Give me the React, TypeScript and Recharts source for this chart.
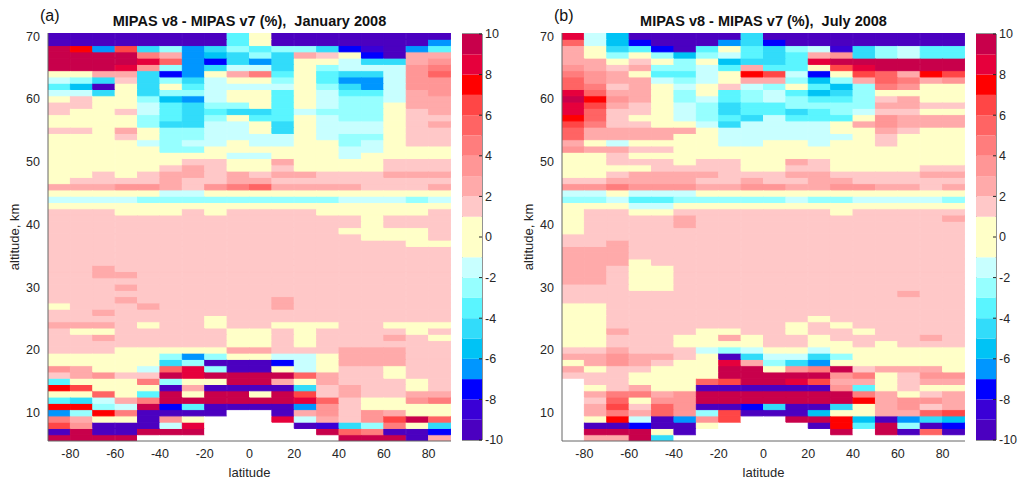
import { Bar, BarChart, Cell, ReferenceArea, XAxis, YAxis } from "recharts";

// grid of the two maps: cell centres
const latitudes = [-85, -75, -65, -55, -45, -35, -25, -15, -5, 5, 15, 25, 35, 45, 55, 65, 75, 85];
const altitudes = [
  70, 69, 68, 67, 66, 65, 64, 63, 62, 61, 60, 59, 58, 57, 56, 55, 54, 53, 52, 51,
  50, 49, 48, 47, 46, 45, 44, 43, 42, 41, 40, 39, 38, 37, 36, 35, 34, 33, 32, 31,
  30, 29, 28, 27, 26, 25, 24, 23, 22, 21, 20, 19, 18, 17, 16, 15, 14, 13, 12, 11,
  10, 9, 8, 7, 6,
];
const latTicks = [-80, -60, -40, -20, 0, 20, 40, 60, 80];
const altTicks = [10, 20, 30, 40, 50, 60, 70];
const colorbarTicks = [-10, -8, -6, -4, -2, 0, 2, 4, 6, 8, 10];

// colour levels (%), bottom to top
const levels = [-10, -9, -8, -7, -6, -5, -4, -3, -2, -1, 1, 2, 3, 4, 5, 6, 7, 8, 9, 10];
const levelColors = [
  "#4b00c0", "#3a00d6", "#0000ff", "#0096ff", "#00c3f5", "#32dcfa", "#5af5ff", "#96ffff", "#c8ffff",
  "#ffffc8",
  "#ffc8c8", "#ffaaaa", "#ff9696", "#ff7d7d", "#ff6464", "#ff4646", "#ff0000", "#e6003c", "#c8004b",
];

// value (%) read for each cell code; "." = no data
const cellValue: Record<string, number | null> = {
  "0": 0, "1": 1.5, "2": 2.5, "3": 3.5, "4": 4.5, "5": 5.5, "6": 6.5, "7": 7.5, "8": 8.5, "9": 9.5,
  a: -1.5, b: -2.5, c: -3.5, d: -4.5, e: -5.5, f: -6.5, g: -7.5, h: -8.5, i: -9.5,
  ".": null,
};

// January 2008, one string per altitude (70 km first), one char per latitude band
const janRows = [
  "iiiiiiiic0iiiiiiii",
  "iiiiiiiic0iiiiiiif",
  "97f6dbfdbcbbdghifc",
  "999942fedbd210gi22",
  "999985fgdfd00add23",
  "99983bfdaad0baaa34",
  "0022dgf024c0cdda35",
  "abd1dbda00b0cffa33",
  "cei0d0caaaa0bdfa33",
  "aad0dbba00c0acca23",
  "0100befa00c0abba22",
  "1100acdbb0c0abb022",
  "1001acdcddcabbb012",
  "0000bcdb0cc0abb011",
  "0000bddaa0d0aaa012",
  "11020bbaa0d0aaa011",
  "00010bbaaaa0abb011",
  "0000abaa0aa00ba011",
  "00000bb000000aa000",
  "00000000aa000a0000",
  "000000110020000111",
  "000001210010000111",
  "001012212122111222",
  "011112112211111111",
  "222332134522221112",
  "00000aa00000000000",
  "aaaabbbbbbbbbaaaba",
  "000000000000000000",
  "111000101111000001",
  "111111111111110111",
  "111111111111110111",
  "111111111111100001",
  "111111111111110001",
  "111111111111111100",
  "111111111111111111",
  "111111111111111111",
  "111111111111111111",
  "112111111111111111",
  "112211111111111111",
  "111111111111111111",
  "111211111111111111",
  "111111111111111111",
  "111211111121111111",
  "011121111121111111",
  "112111111111111111",
  "111111101111111111",
  "222101101100011000",
  "100111110010111101",
  "112111110010111210",
  "111111110010111111",
  "111000002211122211",
  "00000bfb00aa022211",
  "00000dbiiiga022211",
  "3200a58bii0a011011",
  "123119899995211011",
  "c0004b009920211101",
  "76000i2iiiid121101",
  "0050c9099096121122",
  "cda249999998510034",
  "77ba9gciiiif310000",
  "fb74iiii..i2313200",
  "4200i30...8a213695",
  "63iiia8....ihdb40d",
  "i9ii999.....954iig",
  "9999.........999i2",
];

// July 2008
const julRows = [
  "8aeiiiiidiiiiiiiii",
  "5aegiiifdgiiiiiiii",
  "20dcgic0cdbahdbacc",
  "20b0bebacdc23dbacc",
  "22010b0eddc8999999",
  "3212bbac2cc0689999",
  "4320cca076ag065276",
  "5322aba022beb25423",
  "54120a01ab0ceb4300",
  "85220b0cbacedb0000",
  "97320bacbabccb1200",
  "86210abdccbbbb2211",
  "85110abdccdcba1100",
  "75100abcdaccc03222",
  "641100adaaaa023222",
  "5222220aaaaa002100",
  "5222200aaaaaa01000",
  "20a0000aa00a001000",
  "322110000000000000",
  "001000000000000000",
  "001110110021000000",
  "000011110011000011",
  "001222211122111122",
  "112222112112211111",
  "334333223322332212",
  "aa0aaa000000000000",
  "bbaccbbbbbabbaaaab",
  "000aa0000000000000",
  "011001111111011111",
  "011112111111111112",
  "011112111111111111",
  "011111111111111111",
  "111111111111111111",
  "112111111111111111",
  "222111111111111111",
  "222111111111111111",
  "222011111111111111",
  "221001111111111111",
  "221001111111111111",
  "221001111111111111",
  "111001111111111111",
  "111111111111111211",
  "111111111111111111",
  "001111111111111111",
  "001111111111111111",
  "001111111110111111",
  "001111111101011111",
  "002111001101101111",
  "001110020110111121",
  "001110000110010111",
  "112111aba00a000000",
  "2232210idaadb00000",
  "023210082bdf000000",
  "201100099034912220",
  "111000099999340133",
  ".11000569986220122",
  ".01200iiiiii3c0100",
  ".24423999999942012",
  ".15033999999972332",
  ".26153iigdiid02312",
  ".24253b6iiie002256",
  ".07aif36..997eifde",
  ".iigii0....i7c9big",
  ".9990i......9.9i5i",
  ".229d.............",
];

const FONT = '"Liberation Sans", Arial, Helvetica, sans-serif';
const INK = "#262626";

function colorOf(code: string): string {
  const v = cellValue[code];
  if (v === undefined || v === null) return "#ffffff";
  let k = 0;
  while (k < levelColors.length - 1 && v >= levels[k + 1]) k++;
  return levelColors[k];
}

function Heatmap({ rows }: { rows: string[] }) {
  // bottom of the grid is 5.5 km; every row is 1 km thick
  const data = latitudes.map((lat) => {
    const d: Record<string, number> = { lat, base: 5.5 };
    altitudes.forEach((alt) => {
      d[`z${alt}`] = 1;
    });
    return d;
  });
  const bottomUp = [...altitudes].reverse();

  return (
    <BarChart
      width={460}
      height={481}
      data={data}
      margin={{ top: 33, right: 9, bottom: 0, left: 0 }}
      barCategoryGap={0}
      barGap={0}
      stackOffset="none"
    >
      <XAxis
        dataKey="lat"
        type="number"
        domain={[-90, 90]}
        allowDataOverflow
        ticks={latTicks}
        height={40}
        tickLine={false}
        axisLine={{ stroke: "#666" }}
        tick={{ fontSize: 12.5, fill: INK }}
        label={{ value: "latitude", position: "insideBottom", offset: 4, fill: INK, fontSize: 13 }}
      />
      <YAxis
        type="number"
        domain={[5.5, 70.5]}
        allowDataOverflow
        ticks={altTicks}
        width={48}
        tickLine={false}
        axisLine={{ stroke: "#666" }}
        tick={{ fontSize: 12.5, fill: INK }}
        label={{
          value: "altitude, km",
          angle: -90,
          position: "insideLeft",
          offset: 14,
          fill: INK,
          fontSize: 13,
          style: { textAnchor: "middle" },
        }}
      />
      <Bar dataKey="base" stackId="s" fill="none" isAnimationActive={false} />
      {bottomUp.map((alt) => {
        const row = rows[altitudes.indexOf(alt)];
        return (
          <Bar key={alt} dataKey={`z${alt}`} stackId="s" isAnimationActive={false}>
            {latitudes.map((lat, j) => {
              const c = colorOf(row[j]);
              return <Cell key={lat} fill={c} stroke={c} strokeWidth={1} />;
            })}
          </Bar>
        );
      })}
    </BarChart>
  );
}

function Colorbar() {
  const entry: Record<string, number | string> = { name: "cb", base: levels[0] };
  levelColors.forEach((_, k) => {
    entry[`b${k}`] = levels[k + 1] - levels[k];
  });

  return (
    <BarChart
      width={50}
      height={481}
      data={[entry]}
      margin={{ top: 34, right: 0, bottom: 41, left: 0 }}
      barCategoryGap={0}
      stackOffset="none"
    >
      <XAxis dataKey="name" type="category" hide />
      <YAxis
        orientation="right"
        type="number"
        domain={[-10, 10]}
        allowDataOverflow
        ticks={colorbarTicks}
        width={30}
        axisLine={false}
        tickLine={{ stroke: INK }}
        tickSize={-3}
        tickMargin={6}
        tick={{ fontSize: 12.5, fill: INK }}
      />
      <Bar dataKey="base" stackId="c" fill="none" isAnimationActive={false} />
      {levelColors.map((c, k) => (
        <Bar key={k} dataKey={`b${k}`} stackId="c" fill={c} isAnimationActive={false} />
      ))}
      <ReferenceArea y1={-10} y2={10} fill="none" stroke={INK} strokeWidth={1} ifOverflow="visible" />
    </BarChart>
  );
}

function Panel({ tag, title, rows, left }: { tag: string; title: string; rows: string[]; left: number }) {
  return (
    <div style={{ position: "absolute", left, top: 0, width: 508, height: 481 }}>
      <div style={{ position: "absolute", left: 0, top: 0 }}>
        <Heatmap rows={rows} />
      </div>
      <div style={{ position: "absolute", left: 462, top: 0 }}>
        <Colorbar />
      </div>
      <div style={{ position: "absolute", left: 40, top: 8, fontSize: 16, lineHeight: "16px", color: "#111" }}>
        {tag}
      </div>
      <div
        style={{
          position: "absolute",
          left: 48,
          width: 403,
          top: 14,
          textAlign: "center",
          fontSize: 14.5,
          lineHeight: "14px",
          fontWeight: "bold",
          whiteSpace: "pre",
          color: "#111",
        }}
      >
        {title}
      </div>
    </div>
  );
}

export default function App() {
  return (
    <div style={{ position: "relative", width: 1022, height: 481, background: "#fff", fontFamily: FONT, overflow: "hidden" }}>
      <style>{`body{margin:0}`}</style>
      <Panel tag="(a)" title="MIPAS v8 - MIPAS v7 (%),  January 2008" rows={janRows} left={0} />
      <Panel tag="(b)" title="MIPAS v8 - MIPAS v7 (%),  July 2008" rows={julRows} left={514} />
    </div>
  );
}
